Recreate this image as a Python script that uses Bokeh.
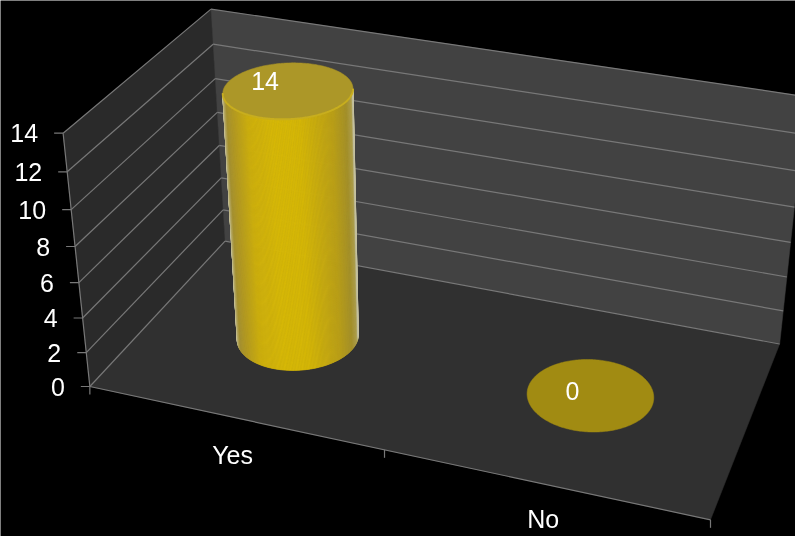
import numpy as np
from bokeh.plotting import figure
from bokeh.models import Range1d
from bokeh.core.properties import value
from bokeh.embed import file_html
from bokeh.resources import INLINE

categories = ["Yes", "No"]
values = [14, 0]
y_ticks = [0, 2, 4, 6, 8, 10, 12, 14]

W, H = 795, 536
FONT = value("Liberation Sans")
FS = value("25px")
GRID = "#787878"

# camera calibration of the 3D box: (category pos, value, depth) -> screen px
model = np.array([(0, 0, 0), (0, 14, 0), (0, 0, 1), (0, 14, 1),
                  (2, 0, 0), (2, 0, 1), (2, 14, 1)], float)
screen = np.array([(89, 386.5), (63, 132.5), (225, 240), (210, 9),
                   (710, 519), (779, 344), (806, 96)], float)
A = []
for (X, Y, Z), (u, v) in zip(model, screen):
    A.append([X, Y, Z, 1, 0, 0, 0, 0, -u * X, -u * Y, -u * Z, -u])
    A.append([0, 0, 0, 0, X, Y, Z, 1, -v * X, -v * Y, -v * Z, -v])
P = np.linalg.svd(np.array(A))[2][-1].reshape(3, 4)


def proj(X, Y, Z):
    X, Y, Z = np.broadcast_arrays(X, Y, Z)
    q = P @ np.vstack([X.ravel(), Y.ravel(), Z.ravel(), np.ones(X.size)])
    return q[0] / q[2], q[1] / q[2]


def seg(a, b):
    x, y = proj(*np.array([a, b], float).T)
    return list(x), list(y)


p = figure(width=W, height=H, x_range=Range1d(0, W), y_range=Range1d(H, 0),
           output_backend="svg", toolbar_location=None,
           x_axis_location=None, y_axis_location=None,
           background_fill_color="#000000", border_fill_color="#000000",
           outline_line_color=None, min_border=0,
           styles={"position": "fixed", "left": "0", "top": "0"})
p.grid.visible = False

xmax, vmax = len(categories), y_ticks[-1]

# walls and floor
for pts, col in [([(0, 0, 0), (0, vmax, 0), (0, vmax, 1), (0, 0, 1)], "#2A2A2A"),
                 ([(0, 0, 1), (0, vmax, 1), (xmax, vmax, 1), (xmax, 0, 1)], "#424242"),
                 ([(0, 0, 0), (0, 0, 1), (xmax, 0, 1), (xmax, 0, 0)], "#303030")]:
    x, y = proj(*np.array(pts, float).T)
    p.patch(list(x), list(y), fill_color=col, line_color=col, line_width=0.5)

# grid lines and ticks
xs, ys = [], []
for t in y_ticks:
    for a, b in [((0, t, 0), (0, t, 1)), ((0, t, 1), (xmax, t, 1))]:
        sx, sy = seg(a, b)
        xs.append(sx)
        ys.append(sy)
    fx, fy = proj(0, t, 0)
    xs.append([fx[0] - 9, fx[0]])
    ys.append([fy[0], fy[0]])
for a, b in [((0, 0, 0), (0, vmax, 0)), ((0, 0, 0), (xmax, 0, 0))]:
    sx, sy = seg(a, b)
    xs.append(sx)
    ys.append(sy)
for i in range(xmax + 1):
    fx, fy = proj(i, 0, 0)
    xs.append([fx[0], fx[0]])
    ys.append([fy[0], fy[0] + 8])
p.multi_line(xs, ys, line_color=GRID, line_width=1.2)

# y tick labels
tx, ty = proj(np.zeros(len(y_ticks)), np.array(y_ticks, float), np.zeros(len(y_ticks)))
p.text(list(tx - 25), list(ty + 0.2), text=[str(t) for t in y_ticks], text_color="#FFFFFF",
       text_font=FONT, text_font_size=FS, text_align="right", text_baseline="middle")

# category labels
cx, cy = proj(np.arange(xmax) + 0.5, np.zeros(xmax), np.zeros(xmax))
p.text([cx[0] - 1, cx[1]], [cy[0] + 38, cy[1] + 35], text=categories, text_color="#FFFFFF",
       text_font=FONT, text_font_size=FS, text_align="center", text_baseline="middle")

# cylinders
RX, RZ = 0.198, 0.205
label_nudge = [(-23, -9), (-18, -4)]
stops_u = [0.0, 0.012, 0.03, 0.08, 0.20, 0.40, 0.60, 0.85, 0.95, 0.99, 1.0]
stops_c = np.array([(205, 200, 165), (180, 168, 100), (165, 145, 50), (178, 153, 35),
                    (205, 175, 14), (214, 184, 8), (212, 182, 8), (186, 159, 24),
                    (164, 144, 42), (172, 158, 78), (196, 192, 160)], float)


def shade(u):
    return "#%02X%02X%02X" % tuple(int(round(np.interp(u, stops_u, stops_c[:, k]))) for k in range(3))


def ring(i, v, th):
    return proj(i + 0.5 + RX * np.cos(th), v, 0.5 + RZ * np.sin(th))


for i, v in enumerate(values):
    th = np.linspace(0, 2 * np.pi, 241)[:-1]
    if v > 0:
        bx, _ = ring(i, 0, th)
        tx_, _ = ring(i, v, th)
        k0, k1 = int(np.argmin(bx + tx_)), int(np.argmax(bx + tx_))
        t0, t1 = th[k0], th[k1]
        # walk along the front side of the cylinder (towards the viewer, depth decreasing)
        if t1 < t0:
            t1 += 2 * np.pi
        arc = np.linspace(t0, t1, 160)
        bx, by = ring(i, 0, arc)
        tx_, ty_ = ring(i, v, arc)
        # shade by screen position across the body, not by angle
        us = (bx - bx.min()) / (bx.max() - bx.min())
        sxs, sys, cols = [], [], []
        for j in range(len(arc) - 1):
            sxs.append([bx[j], bx[j + 1], tx_[j + 1], tx_[j]])
            sys.append([by[j], by[j + 1], ty_[j + 1], ty_[j]])
            cols.append(shade((us[j] + us[j + 1]) / 2))
        p.patches(sxs, sys, fill_color=cols, line_color=cols, line_width=0.8)
        ex, ey = ring(i, v, th)
        p.patch(list(ex), list(ey), fill_color="#AC9728", line_color="#AC9728", line_width=0.5)
        rx_, ry_ = ring(i, v, arc)
        p.line(list(rx_), list(ry_), line_color="#C8AE1E", line_width=2)
    else:
        ex, ey = ring(i, v, th)
        p.patch(list(ex), list(ey), fill_color="#A18B12", line_color="#A18B12", line_width=0.5)

    lx, ly = proj(i + 0.5, v, 0.5)
    p.text([lx[0] + label_nudge[i][0]], [ly[0] + label_nudge[i][1]], text=[str(v)], text_color="#FFFFFF",
           text_font=FONT, text_font_size=FS, text_align="center", text_baseline="middle")

html = file_html(p, INLINE)
open("out.html", "w").write(html)
